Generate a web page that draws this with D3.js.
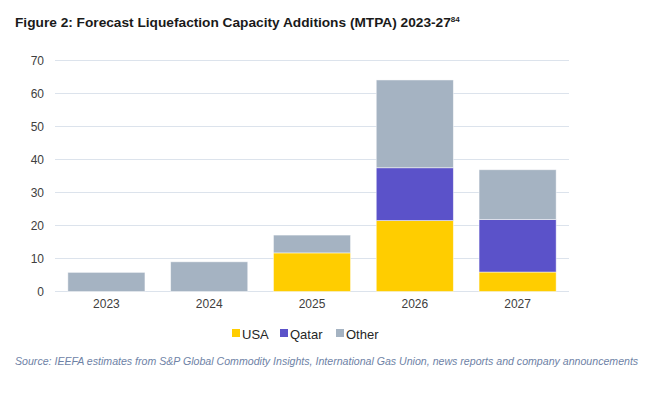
<!DOCTYPE html>
<html>
<head>
<meta charset="utf-8">
<script src="https://cdn.jsdelivr.net/npm/d3@7"></script>
<style>
  body { margin:0; background:#fff; }
  svg text { font-family: "Liberation Sans", Arial, sans-serif; }
</style>
</head>
<body>
<svg id="chart" width="657" height="395"></svg>
<script>
// data
let years=["2023","2024","2025","2026","2027"];
let usa=[0,0,11.7,21.5,5.9];
let qatar=[0,0,0,16.0,15.9];
let other=[5.8,9.0,5.4,26.6,15.1];
let seriesNames=["USA","Qatar","Other"];
let yTicks=[0,10,20,30,40,50,60,70];

let colors={"USA":"#FFCD00","Qatar":"#5B52C9","Other":"#A5B3C2"};

let svg=d3.select("#chart");

let margin={top:60.5,left:55,right:88,bottom:103.5},
  width=657,
  height=395;

let rows=years.map(function(y,i){
  return {year:y,USA:usa[i],Qatar:qatar[i],Other:other[i]};
});

let xScale=d3.scaleBand().domain(years)
  .range([margin.left,width-margin.right])
  .paddingInner(0.25).paddingOuter(0.125);
let yScale=d3.scaleLinear().domain([0,70])
  .range([height-margin.bottom,margin.top]);

// title
let title=svg.append("text")
  .attr("x",15).attr("y",27)
  .attr("font-size","13.7px")
  .attr("font-weight","bold")
  .attr("fill","#1a1a1a")
  .text("Figure 2: Forecast Liquefaction Capacity Additions (MTPA) 2023-27");
title.append("tspan")
  .attr("dy",-5).attr("font-size","8px")
  .text("84");

// gridlines
svg.append("g").selectAll("line")
  .data(yTicks)
  .enter().append("line")
  .attr("x1",margin.left).attr("x2",width-margin.right)
  .attr("y1",function(d){return yScale(d)})
  .attr("y2",function(d){return yScale(d)})
  .attr("stroke","#DCE3EC").attr("stroke-width",1);

// y axis labels
let yAxis=svg.append("g")
  .attr("transform","translate("+(margin.left-11)+",0)")
  .call(d3.axisLeft(yScale).tickValues(yTicks).tickSize(0).tickPadding(0));
yAxis.select(".domain").remove();
yAxis.selectAll("text").attr("font-size","12px").attr("fill","#404040")
  .style("font-family","'Liberation Sans', Arial, sans-serif");

// stacked bars
let stack=d3.stack().keys(seriesNames)(rows);
svg.append("g").selectAll("g")
  .data(stack)
  .enter().append("g")
  .attr("fill",function(d){return colors[d.key]})
  .selectAll("rect")
  .data(function(d){return d.filter(function(p){return p[1]-p[0]>0})})
  .enter().append("rect")
  .attr("x",function(d){return xScale(d.data.year)})
  .attr("width",xScale.bandwidth())
  .attr("y",function(d){return yScale(d[1])})
  .attr("height",function(d){return yScale(d[0])-yScale(d[1])})
  .attr("stroke","#ffffff").attr("stroke-opacity",0.6).attr("stroke-width",0.8);

// x axis labels
let xAxis=svg.append("g")
  .attr("transform","translate(0,"+(height-margin.bottom+8)+")")
  .call(d3.axisBottom(xScale).tickSize(0).tickPadding(0));
xAxis.select(".domain").remove();
xAxis.selectAll("text").attr("font-size","12px").attr("fill","#404040")
  .style("font-family","'Liberation Sans', Arial, sans-serif");

// legend
let legendX=[232,280,336];
let legend=svg.append("g").selectAll("g")
  .data(seriesNames)
  .enter().append("g")
  .attr("transform",function(d,i){
    return "translate("+legendX[i]+",329)";
  });
legend.append("rect")
  .attr("width",8).attr("height",8)
  .attr("fill",function(d){return colors[d]});
legend.append("text")
  .attr("x",10).attr("y",9.5)
  .attr("font-size","13px").attr("fill","#262626")
  .text(function(d){return d});

// source
svg.append("text")
  .attr("x",15).attr("y",365)
  .attr("font-size","10.6px")
  .attr("font-style","italic")
  .attr("fill","#6E82A6")
  .text("Source: IEEFA estimates from S&P Global Commodity Insights, International Gas Union, news reports and company announcements");
</script>
</body>
</html>
